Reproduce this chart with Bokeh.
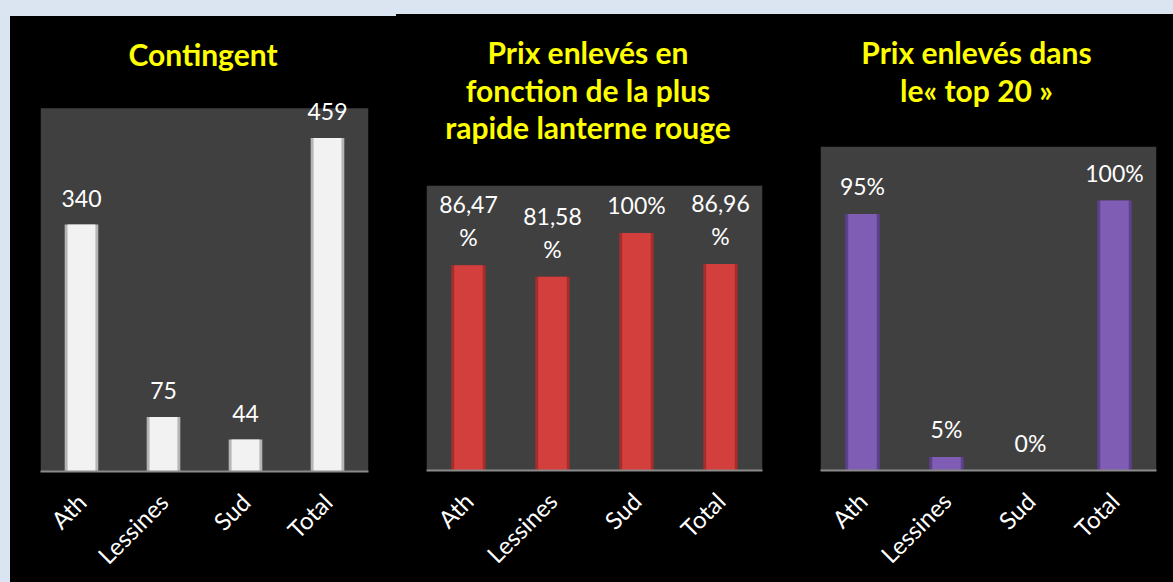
import math
from bokeh.plotting import figure
from bokeh.layouts import row, column
from bokeh.models import ColumnDataSource, Div, BoxAnnotation
from bokeh.core.properties import value
from bokeh.embed import file_html
from bokeh.resources import INLINE

# ---------------- data ----------------
categories = ["Ath", "Lessines", "Sud", "Total"]

contingent_values = [340, 75, 44, 459]

lanterne_values = [86.47, 81.58, 100, 86.96]      # percent

top20_values = [95, 5, 0, 100]                     # percent

title_contingent = ["Contingent"]
title_lanterne = ["Prix enlevés en", "fonction de la plus", "rapide lanterne rouge"]
title_top20 = ["Prix enlevés dans", "le« top 20 »"]

# ---------------- styles ----------------
FONT = "Lato"
PAGE_BG = "#dbe5f1"
PANEL_BG = "#000000"
PLOT_BG = "#404040"
AXIS_COLOR = "#8a8a8a"
YELLOW = "#ffff00"


def pct_label(v):
    if float(v).is_integer():
        return f"{int(v)}%"
    return f"{v:.2f}".replace(".", ",") + "\n%"


def make_panel(values, labels, ymax, view_top, title_lines, width, height, title_h,
               left, right, frame_h, top, margin, edge_color, fill_color, label_offset):
    html = ('<div style="padding-top:20px;font-family:Lato;font-weight:bold;'
            'font-size:30px;line-height:37.5px;color:%s;text-align:center;">%s</div>'
            % (YELLOW, "<br>".join(title_lines)))
    div = Div(text=html, width=width, height=title_h, margin=0,
              styles={"background-color": PANEL_BG, "text-align": "center"})

    fig_h = height - title_h
    bottom = fig_h - top - frame_h
    p = figure(x_range=categories, y_range=(0, view_top), width=width, height=fig_h,
               output_backend="svg", toolbar_location=None, tools="",
               y_axis_location=None,
               min_border_left=left, min_border_top=top,
               min_border_right=right, min_border_bottom=bottom,
               background_fill_color=PANEL_BG, border_fill_color=PANEL_BG,
               outline_line_color=None, margin=0)
    p.grid.visible = False
    # dark grey plot area (value axis 0 .. ymax)
    p.add_layout(BoxAnnotation(bottom=0, top=ymax, fill_color=PLOT_BG, fill_alpha=1,
                               line_color=None, level="underlay"))
    src = ColumnDataSource(dict(cat=categories, val=values, lab=labels))
    p.vbar(x="cat", top="val", width=0.41, source=src,
           fill_color=edge_color, line_color=None)
    p.vbar(x="cat", top="val", width=0.34, source=src,
           fill_color=fill_color, line_color=None)
    p.text(x="cat", y="val", text="lab", source=src,
           text_align="center", text_baseline="bottom", y_offset=label_offset,
           text_color="#ffffff", text_font=value(FONT), text_font_size="23px",
           text_line_height=1.18)

    ax = p.xaxis[0]
    ax.axis_line_color = AXIS_COLOR
    ax.axis_line_width = 2
    ax.major_tick_line_color = None
    ax.minor_tick_line_color = None
    ax.major_label_orientation = math.pi / 4
    ax.major_label_text_color = "#ffffff"
    ax.major_label_text_font = FONT
    ax.major_label_text_font_size = "24px"
    ax.major_label_standoff = 20

    return column(div, p, margin=margin, spacing=0,
                  styles={"background-color": PANEL_BG})


# panel 1: value axis 0..500 drawn over 363 px; view extends to 530 so the top label is not cut
p1 = make_panel(contingent_values, [str(v) for v in contingent_values], 500, 530,
                title_contingent, width=386, height=566, title_h=70,
                left=30, right=28, frame_h=385, top=0, margin=(16, 0, 0, 10),
                edge_color="#b5b5b5", fill_color="#f2f2f2", label_offset=-18)

p2 = make_panel([v / 100 for v in lanterne_values], [pct_label(v) for v in lanterne_values], 1.2, 1.2,
                title_lanterne, width=384, height=568, title_h=161,
                left=30, right=18, frame_h=285, top=10, margin=(14, 0, 0, 0),
                edge_color="#a52d2b", fill_color="#d23f3c", label_offset=-14)

p3 = make_panel([v / 100 for v in top20_values], [pct_label(v) for v in top20_values], 1.2, 1.2,
                title_top20, width=393, height=568, title_h=122,
                left=40, right=17, frame_h=324, top=10, margin=(14, 0, 0, 0),
                edge_color="#5c418c", fill_color="#7f5db4", label_offset=-14)

layout = row(p1, p2, p3, spacing=0, styles={"background-color": PAGE_BG})

open("out.html", "w").write(file_html(layout, INLINE))
